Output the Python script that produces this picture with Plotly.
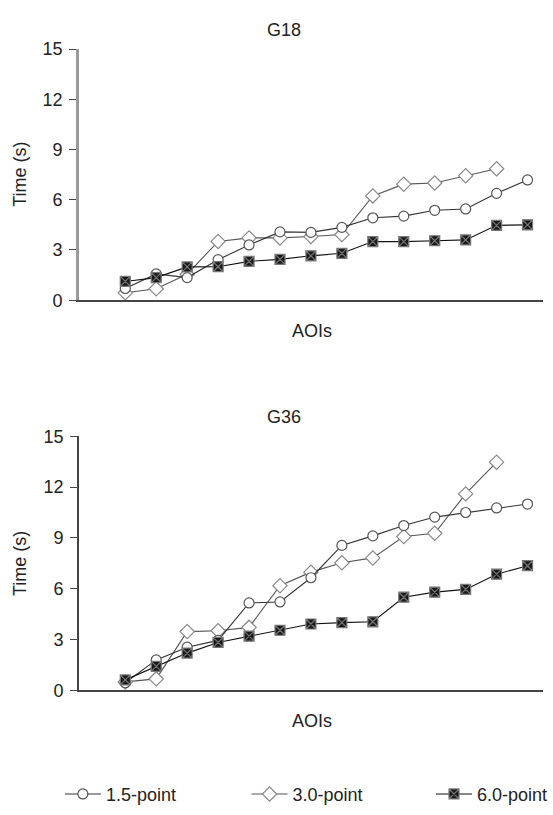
import plotly.graph_objects as go

# ---- data ----
aoi_index = list(range(2, 16))  # 14 AOIs placed in category slots 2..15 (slot 1 empty)

g18_15 = [0.7, 1.57, 1.35, 2.42, 3.3, 4.08, 4.05, 4.35, 4.92, 5.02, 5.37, 5.45, 6.38, 7.18]
g18_30 = [0.44, 0.68, 1.55, 3.51, 3.72, 3.72, 3.8, 3.92, 6.23, 6.93, 7.0, 7.43, 7.85]
g18_60 = [1.12, 1.35, 1.99, 2.0, 2.32, 2.44, 2.65, 2.8, 3.5, 3.5, 3.55, 3.6, 4.47, 4.5]

g36_15 = [0.45, 1.8, 2.55, 2.95, 5.16, 5.22, 6.65, 8.56, 9.12, 9.73, 10.23, 10.5, 10.77, 11.0]
g36_30 = [0.5, 0.68, 3.47, 3.52, 3.72, 6.18, 6.98, 7.53, 7.82, 9.08, 9.27, 11.6, 13.47]
g36_60 = [0.62, 1.42, 2.2, 2.83, 3.2, 3.55, 3.92, 4.0, 4.05, 5.5, 5.8, 5.96, 6.86, 7.36]

series_names = ["1.5-point", "3.0-point", "6.0-point"]
y_ticks = [0, 3, 6, 9, 12, 15]
panel_titles = ["G18", "G36"]

W, H = 553, 815
FONT = "Liberation Sans, Arial, sans-serif"
FS = 18


def px(x, y):
    return x / W, 1 - y / H


styles = {
    "1.5-point": dict(symbol="circle", size=10, color="white", lc="#555555", line="#333333"),
    "3.0-point": dict(symbol="diamond", size=11, color="white", lc="#888888", line="#555555"),
    "6.0-point": dict(symbol="square-x", size=10, color="#1a1a1a", lc="#777777", line="#111111"),
}
legend_ids = {"1.5-point": "legend", "3.0-point": "legend2", "6.0-point": "legend3"}

fig = go.Figure()
panels = [
    ("x", "y", {"1.5-point": g18_15, "3.0-point": g18_30, "6.0-point": g18_60}, True),
    ("x2", "y2", {"1.5-point": g36_15, "3.0-point": g36_30, "6.0-point": g36_60}, False),
]
draw_order = ["3.0-point", "1.5-point", "6.0-point"]
for xa, ya, data, show in panels:
    for name in draw_order:
        vals = data[name]
        st = styles[name]
        fig.add_trace(go.Scatter(
            x=aoi_index[:len(vals)], y=vals, name=name, xaxis=xa, yaxis=ya,
            mode="lines+markers", showlegend=show, legend=legend_ids[name],
            line=dict(color=st["line"], width=1.1),
            marker=dict(symbol=st["symbol"], size=st["size"], color=st["color"],
                        line=dict(color=st["lc"], width=1.2)),
        ))

x_dom = [79 / W, 544 / W]
top_dom = [1 - 297.5 / H, 1 - 40 / H]
bot_dom = [1 - 697.5 / H, 1 - 437 / H]

xcommon = dict(range=[0.5, 15.5], showticklabels=False, ticks="", showgrid=False,
               zeroline=False, showline=True, linecolor="#444444", linewidth=2)
ycommon = dict(range=[0, 15], tickvals=y_ticks, ticks="outside", ticklen=7,
               tickcolor="#444444", tickwidth=1, showgrid=False, zeroline=False,
               showline=True, ticklabelstandoff=3,
               tickfont=dict(family=FONT, size=FS, color="#222222"))

leg_common = dict(orientation="h", xanchor="left", y=1 - 804 / H, yanchor="middle",
                  itemwidth=36,
                  font=dict(family=FONT, size=FS, color="#222222"),
                  bgcolor="rgba(0,0,0,0)")

fig.update_layout(
    width=W, height=H, margin=dict(l=0, r=0, t=0, b=0),
    paper_bgcolor="white", plot_bgcolor="white",
    font=dict(family=FONT, size=FS, color="#222222"),
    xaxis=dict(domain=x_dom, anchor="y", **xcommon),
    yaxis=dict(domain=top_dom, anchor="x", linecolor="#9a9a9a", linewidth=2.5, **ycommon),
    xaxis2=dict(domain=x_dom, anchor="y2", **xcommon),
    yaxis2=dict(domain=bot_dom, anchor="x2", linecolor="#444444", linewidth=1.5, **ycommon),
    legend=dict(x=60 / W, **leg_common),
    legend2=dict(x=247 / W, **leg_common),
    legend3=dict(x=432 / W, **leg_common),
    showlegend=True,
)

anns = []
for (tx, ty, text, rot) in [
    (285, 21, panel_titles[0], 0),
    (313, 329, "AOIs", 0),
    (20, 168, "Time (s)", -90),
    (285, 417, panel_titles[1], 0),
    (313, 729, "AOIs", 0),
    (20, 567, "Time (s)", -90),
]:
    ax, ay = px(tx, ty)
    anns.append(dict(x=ax, y=ay, xref="paper", yref="paper", text=text, showarrow=False,
                     textangle=rot, xanchor="center", yanchor="middle",
                     font=dict(family=FONT, size=FS, color="#222222")))
fig.update_layout(annotations=anns)

fig.write_html("out.html")
